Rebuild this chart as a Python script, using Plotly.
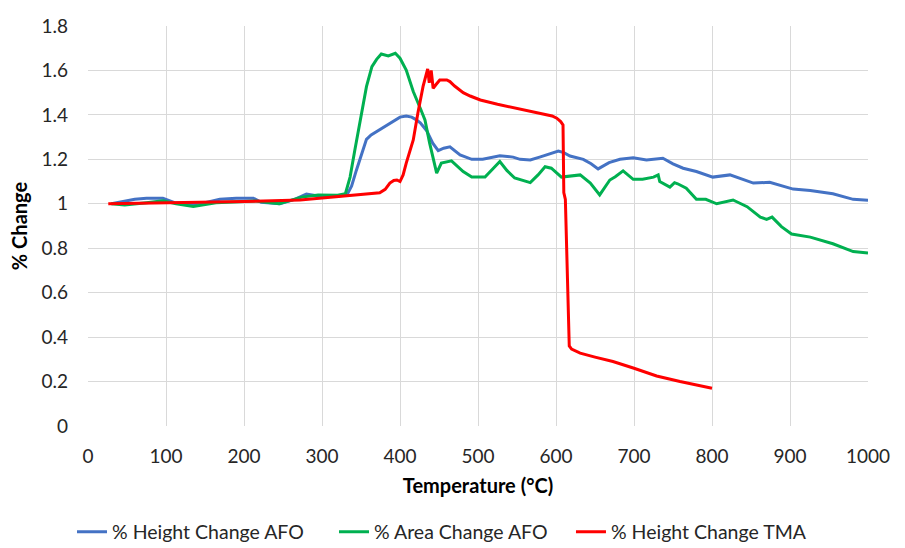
import plotly.graph_objects as go

# % Height Change AFO
blue_t = [30, 43, 60, 75, 96, 111, 135, 150, 169, 190, 212, 222, 246, 265, 280, 295, 321, 332, 338, 344, 351, 357, 363, 370, 383, 392, 400, 408, 415, 420, 426, 434, 442, 449, 456, 464, 477, 492, 506, 528, 545, 554, 567, 579, 592, 603, 610, 618, 635, 645, 654, 661, 668, 682, 699, 716, 737, 750, 763, 780, 801, 823, 840, 853, 874, 890, 904, 926, 955, 981, 1000]
blue_v = [1.0, 1.01, 1.02, 1.025, 1.025, 1.005, 1.0, 1.005, 1.02, 1.025, 1.025, 1.007, 1.0, 1.02, 1.044, 1.035, 1.035, 1.04, 1.08, 1.15, 1.23, 1.29, 1.31, 1.325, 1.355, 1.375, 1.39, 1.395, 1.39, 1.38, 1.364, 1.33, 1.273, 1.239, 1.25, 1.256, 1.22, 1.2, 1.2, 1.216, 1.21, 1.2, 1.197, 1.21, 1.225, 1.237, 1.23, 1.215, 1.2, 1.18, 1.157, 1.17, 1.185, 1.2, 1.207, 1.197, 1.205, 1.18, 1.16, 1.145, 1.12, 1.13, 1.11, 1.093, 1.097, 1.08, 1.066, 1.06, 1.045, 1.02, 1.016]

# % Area Change AFO
green_t = [30, 47, 75, 96, 113, 135, 164, 194, 215, 245, 274, 295, 320, 330, 336, 342, 347, 351, 357, 364, 370, 376, 385, 394, 400, 408, 417, 426, 432, 438, 447, 453, 466, 481, 492, 509, 520, 528, 537, 547, 567, 577, 586, 594, 607, 631, 644, 656, 669, 676, 686, 699, 711, 725, 731, 733, 746, 752, 756, 767, 780, 792, 806, 827, 845, 862, 870, 877, 889, 902, 926, 955, 981, 1000]
green_v = [1.0, 0.995, 1.005, 1.013, 1.0, 0.988, 1.005, 1.01, 1.013, 1.0, 1.03, 1.04, 1.038, 1.045, 1.12, 1.24, 1.33, 1.41, 1.527, 1.617, 1.65, 1.674, 1.665, 1.677, 1.655, 1.602, 1.505, 1.43, 1.377, 1.273, 1.138, 1.183, 1.193, 1.145, 1.12, 1.12, 1.16, 1.19, 1.15, 1.116, 1.095, 1.13, 1.167, 1.16, 1.12, 1.13, 1.093, 1.04, 1.107, 1.122, 1.148, 1.11, 1.11, 1.12, 1.13, 1.10, 1.075, 1.095, 1.09, 1.07, 1.02, 1.02, 1.0, 1.017, 0.987, 0.94, 0.93, 0.94, 0.897, 0.864, 0.85, 0.82, 0.785, 0.778]

# % Height Change TMA
red_t = [26, 100, 200, 272, 336, 374, 381, 387, 392, 396, 400, 404, 408, 417, 423, 429.5, 435.5, 437.5, 440, 442.5, 447, 451, 460, 464, 470, 477, 481, 490, 503, 525, 549, 584, 595, 601, 606, 609, 610, 612, 614, 615, 617, 620, 631, 650, 673, 700, 729, 759, 780, 800]
red_v = [1.0, 1.003, 1.01, 1.017, 1.036, 1.05, 1.065, 1.093, 1.105, 1.107, 1.10, 1.13, 1.183, 1.287, 1.41, 1.527, 1.607, 1.544, 1.6, 1.52, 1.54, 1.557, 1.557, 1.55, 1.53, 1.512, 1.5, 1.485, 1.467, 1.448, 1.43, 1.404, 1.395, 1.385, 1.37, 1.355, 1.05, 1.02, 0.75, 0.62, 0.36, 0.346, 0.328, 0.31, 0.29, 0.26, 0.225, 0.2, 0.185, 0.17]

series_names = ["% Height Change AFO", "% Area Change AFO", "% Height Change TMA"]
colors = ["#4472C4", "#00B050", "#FF0000"]
legend_ids = ["legend", "legend2", "legend3"]
legend_x = [-0.0205, 0.3154, 0.6192]

fig = go.Figure()
for name, t, v, c, lg in zip(series_names, [blue_t, green_t, red_t], [blue_v, green_v, red_v], colors, legend_ids):
    fig.add_trace(go.Scatter(x=t, y=v, mode="lines", name=name, legend=lg,
                             line=dict(color=c, width=3)))

font_family = "Lato, Open Sans, sans-serif"
legend_common = dict(orientation="h", xanchor="left", yref="container", y=0.029, yanchor="middle",
                     font=dict(size=19.5, color="#262626"), bgcolor="rgba(0,0,0,0)")

fig.update_layout(
    width=905, height=548,
    margin=dict(l=88, r=37, t=26, b=122),
    paper_bgcolor="white", plot_bgcolor="white",
    font=dict(family=font_family, size=19, color="#262626"),
    showlegend=True,
    legend=dict(x=legend_x[0], **legend_common),
    legend2=dict(x=legend_x[1], **legend_common),
    legend3=dict(x=legend_x[2], **legend_common),
    xaxis=dict(range=[0, 1000], dtick=100, tick0=0, showgrid=True, gridcolor="#D9D9D9",
               gridwidth=1, zeroline=False, showline=False, automargin=False,
               ticks="", ticklabelstandoff=17, tickangle=0,
               tickfont=dict(size=19, color="#262626"),
               title=dict(text="<b>Temperature (°C)</b>", font=dict(size=20, color="#000000"), standoff=12)),
    yaxis=dict(range=[0, 1.8], dtick=0.2, tick0=0, showgrid=True, gridcolor="#D9D9D9",
               gridwidth=1, zeroline=False, showline=False, automargin=False,
               ticks="", ticklabelstandoff=19,
               tickfont=dict(size=19, color="#262626"),
               title=dict(text="<b>% Change</b>", font=dict(size=20, color="#000000"), standoff=8)),
)

fig.write_html("out.html", config={"displayModeBar": False},
               post_script="document.body.style.margin='0px';document.body.style.overflow='hidden';")
